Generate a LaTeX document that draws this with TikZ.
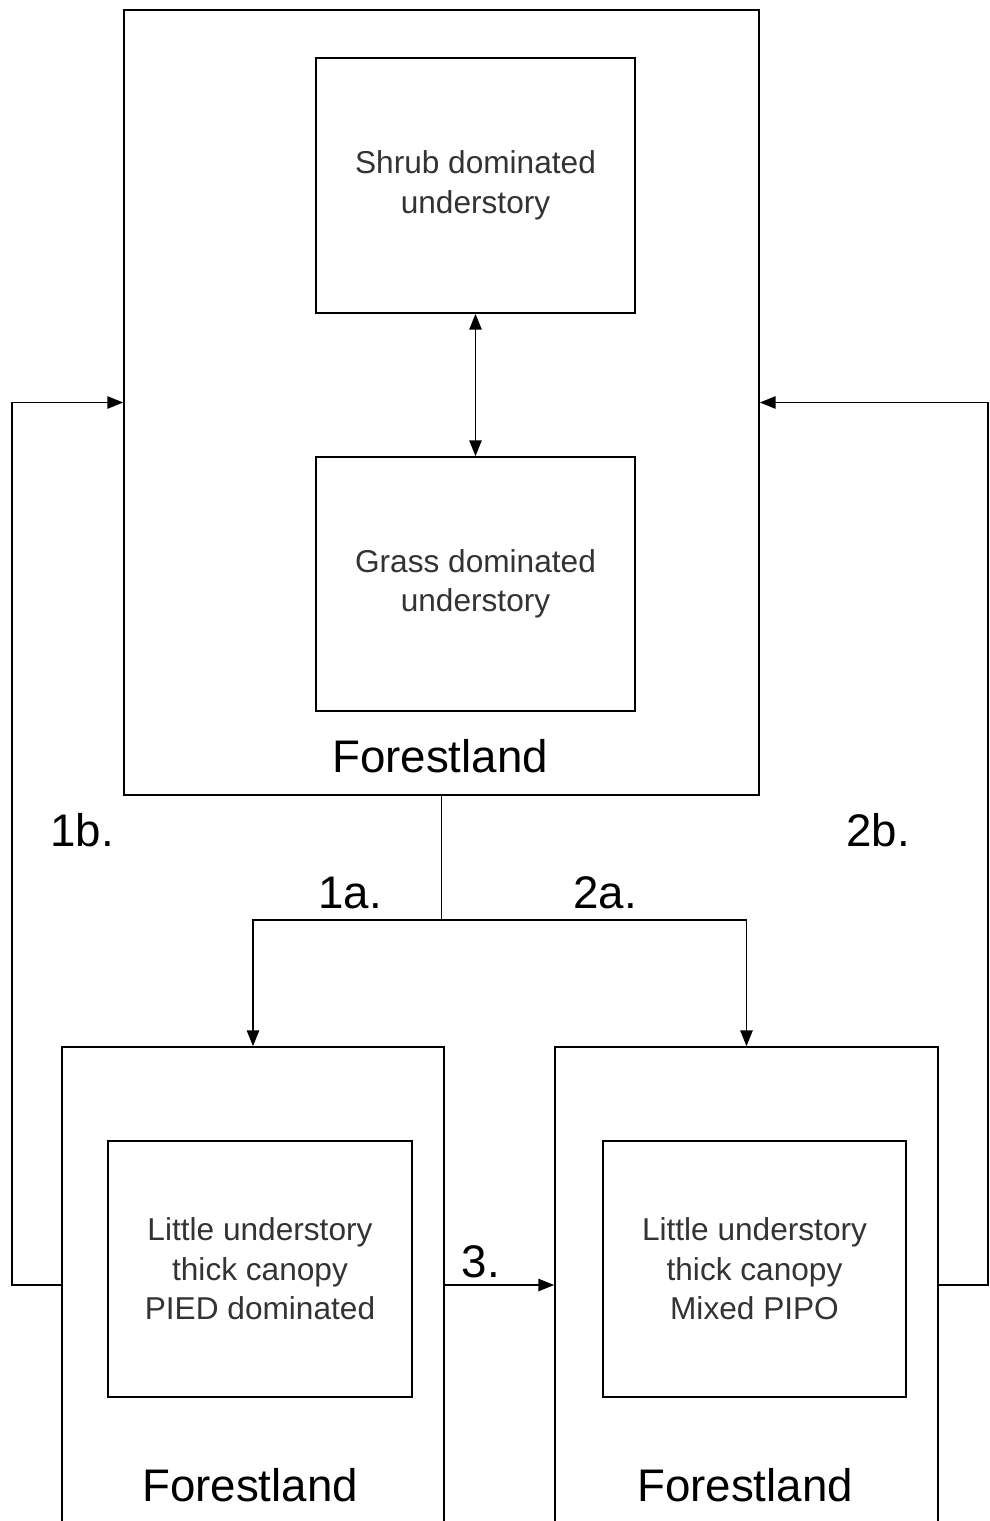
\documentclass[tikz,border=0pt]{standalone}
\usepackage{fontspec}
\setmainfont{Liberation Sans}
\usetikzlibrary{arrows.meta}

\tikzset{
    statebox/.style={draw, line width=1pt, inner sep=0pt, align=center,
        text=black!80, font=\fontsize{18}{22.5}\selectfont},
    landbox/.style={draw, line width=1pt, inner sep=0pt},
    biglabel/.style={font=\fontsize{26}{30}\selectfont},
    flow/.style={line width=1pt, -{Triangle[length=9pt,width=7pt]}},
}

\begin{document}
\begin{tikzpicture}[x=0.02cm,y=-0.02cm]
        \clip (0,0) rectangle (990,1521);
        \fill[white] (0,0) rectangle (990,1521);
        % top forestland
        \node[landbox, minimum width=12.7cm, minimum height=15.7cm] (top) at (441.5,402.5) {};
        \node[statebox, minimum width=6.38cm, minimum height=5.1cm] (shrub) at (475.5,185.5) {Shrub dominated\\understory};
        \node[statebox, minimum width=6.38cm, minimum height=5.08cm] (grass) at (475.5,584) {Grass dominated\\understory};
        \node[biglabel] (toplabel) at (440,756) {Forestland};
        % bottom forestlands
        \node[landbox, minimum width=7.64cm, minimum height=10.26cm] (left) at (253,1303.5) {};
        \node[landbox, minimum width=7.66cm, minimum height=10.26cm] (right) at (746.5,1303.5) {};
        \node[statebox, minimum width=6.08cm, minimum height=5.12cm] (pied) at (260,1269) {Little understory\\thick canopy\\PIED dominated};
        \node[statebox, minimum width=6.06cm, minimum height=5.12cm] (pipo) at (754.5,1269) {Little understory\\thick canopy\\Mixed PIPO};
        \node[biglabel] (leftlabel) at (250,1485) {Forestland};
        \node[biglabel] (rightlabel) at (745,1485) {Forestland};
        % transitions
        \coordinate (split) at (441.5,920);
        \coordinate (mid) at (0,1285);
        \draw[flow, {Triangle[length=9pt,width=7pt]}-{Triangle[length=9pt,width=7pt]}] (shrub.south) -- (grass.north);
        \draw[line width=1pt] (top.south) -- (split);
        \draw[flow] (split) -| (left.north);
        \draw[flow] (split) -| (right.north);
        \draw[flow] (left.west |- mid) -- ++(-49,0) |- (top.west);
        \draw[flow] (right.east |- mid) -- ++(49,0) |- (top.east);
        \draw[flow] (left.east |- mid) -- (right.west |- mid);
        \node[biglabel] (lab1a) at (350,893) {1a.};
        \node[biglabel] (lab2a) at (605,893) {2a.};
        \node[biglabel] (lab1b) at (82,830) {1b.};
        \node[biglabel] (lab2b) at (878,830) {2b.};
        \node[biglabel] (lab3) at (481,1262) {3.};
    \end{tikzpicture}
\end{document}
